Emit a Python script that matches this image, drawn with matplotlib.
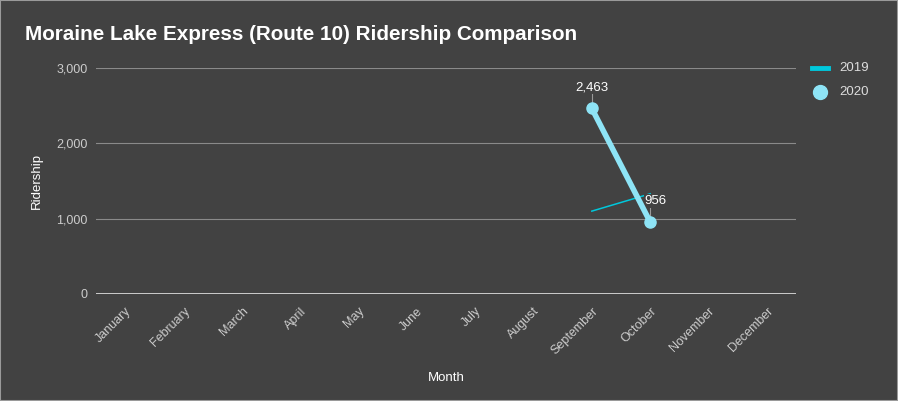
import matplotlib
matplotlib.use("Agg")
import matplotlib.pyplot as plt
from matplotlib.patches import Rectangle

months = ["January", "February", "March", "April", "May", "June", "July",
          "August", "September", "October", "November", "December"]
riders_2019 = [None, None, None, None, None, None, None, None, 1100, 1330, None, None]
riders_2020 = [None, None, None, None, None, None, None, None, 2463, 956, None, None]
y_ticks = [0, 1000, 2000, 3000]

BG = "#424242"
plt.rcParams["font.family"] = ["Liberation Sans", "DejaVu Sans"]

fig = plt.figure(figsize=(8.98, 4.01), dpi=100, facecolor=BG)
ax = fig.add_axes([96 / 898, 1 - 294 / 401, 700 / 898, 226 / 401], facecolor=BG)

x = list(range(len(months)))
x19 = [i for i, v in zip(x, riders_2019) if v is not None]
v19 = [v for v in riders_2019 if v is not None]
x20 = [i for i, v in zip(x, riders_2020) if v is not None]
v20 = [v for v in riders_2020 if v is not None]

ax.plot(x19, v19, color="#00c8dc", lw=1.1, zorder=2)
ax.plot(x20, v20, color="#8ee4f6", lw=4, marker="o", ms=8, zorder=4,
        solid_capstyle="round")

# data labels with short leader lines (second one nudged right, like the original)
nudge = [0.0, 0.09]
for xi, v, dx in zip(x20, v20, nudge):
    ax.plot([xi, xi], [v + 60, v + 190], color="#9a9a9a", lw=0.8, zorder=3)
    ax.text(xi + dx, v + 200, f"{v:,}", color="white", fontsize=9.5, ha="center",
            va="bottom", zorder=3.5,
            bbox=dict(facecolor=BG, edgecolor="none", pad=0.6))

ax.set_xlim(-0.5, len(months) - 0.5)
ax.set_ylim(0, 3000)
ax.set_yticks(y_ticks)
ax.set_yticklabels([f"{t:,}" for t in y_ticks])
ax.set_xticks(x)
ax.set_xticklabels(months, rotation=45, ha="right", rotation_mode="anchor")
ax.tick_params(colors="#cccccc", labelsize=9, length=0, pad=6)
ax.tick_params(axis="x", pad=8)
ax.grid(axis="y", color="#8a8a8a", lw=0.8)
ax.axhline(0, color="#e8e8e8", lw=1.2, zorder=1.5)
for s in ax.spines.values():
    s.set_visible(False)

ax.set_xlabel("Month", color="white", fontsize=9.5, labelpad=11)
ax.set_ylabel("Ridership", color="white", fontsize=9.5, labelpad=10)

fig.text(25 / 898, 1 - 35 / 401, "Moraine Lake Express (Route 10) Ridership Comparison",
         color="white", fontsize=14.9, fontweight="bold", va="center")

# legend
fig.add_artist(plt.Line2D([812 / 898, 828 / 898], [1 - 68 / 401] * 2,
                          color="#00c8dc", lw=3.5, transform=fig.transFigure))
fig.add_artist(plt.Line2D([820 / 898], [1 - 92 / 401], marker="o", ms=10,
                          color="#8ee4f6", lw=0, transform=fig.transFigure))
fig.text(839 / 898, 1 - 68 / 401, "2019", color="#dddddd", fontsize=9.5, va="center")
fig.text(839 / 898, 1 - 92 / 401, "2020", color="#dddddd", fontsize=9.5, va="center")

fig.add_artist(Rectangle((0, 0), 1, 1, transform=fig.transFigure, fill=False,
                         edgecolor="#9a9a9a", lw=1.5))

fig.savefig("out.png", dpi=100, facecolor=BG)
